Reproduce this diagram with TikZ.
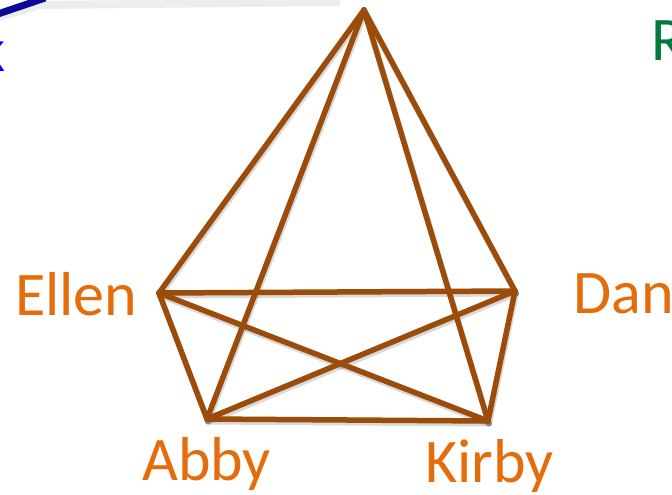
\documentclass[tikz,border=0pt]{standalone}
\usepackage{fontspec}
\setmainfont{Carlito}
\definecolor{edgebrown}{RGB}{156,76,10}
\definecolor{lblorange}{RGB}{228,108,10}
\definecolor{rgreen}{RGB}{0,122,61}
\definecolor{kblue}{RGB}{0,0,240}
\definecolor{barblue}{RGB}{10,10,150}
\tikzset{
  edge/.style={draw=edgebrown, line width=5.5pt, line cap=round, line join=round},
  edgeshadow/.style={draw=black, opacity=0.15, line width=6pt, line cap=round},
  lbl/.style={text=lblorange, font=\fontsize{62}{64}\selectfont, inner sep=0pt, anchor=base west},
}
\begin{document}
\begin{tikzpicture}[x=1pt,y=-1pt]
\useasboundingbox (0,0) rectangle (672,495);
\fill[white] (0,0) rectangle (672,495);
% slide border fragment
\draw[black, opacity=0.07, line width=8pt] (0,17) -- (40,5) -- (340,2);
\draw[barblue, line width=7pt] (-5,15) -- (45,-2);
% clipped text fragments
\node[text=kblue, font=\fontsize{62}{64}\selectfont, inner sep=0pt, anchor=base east] (kfrag) at (6,71) {k};
\node[text=rgreen, font=\fontsize{62}{64}\selectfont, inner sep=0pt, anchor=base west] (rfrag) at (651,60) {R};
% vertices
\coordinate (T) at (364,10);
\coordinate (E) at (159,293);
\coordinate (D) at (515,291);
\coordinate (A) at (207,419);
\coordinate (K) at (488,421);
% shadows
\foreach \a/\b in {T/E,T/A,T/K,T/D,E/D,E/A,E/K,D/A,D/K,A/K}{
  \draw[edgeshadow, transform canvas={shift={(1pt,-2.5pt)}}] (\a) -- (\b);
}
% edges
\draw[edge] (T) -- (E);
\draw[edge] (T) -- (A);
\draw[edge] (T) -- (K);
\draw[edge] (T) -- (D);
\draw[edge] (E) -- (D);
\draw[edge] (E) -- (A);
\draw[edge] (E) -- (K);
\draw[edge] (D) -- (A);
\draw[edge] (D) -- (K);
\draw[edge] (A) -- (K);
% labels
\node[lbl] (ellen) at (15,315) {Ellen};
\node[lbl] (dan) at (573,313) {Dan};
\node[lbl] (abby) at (142,480) {Abby};
\node[lbl] (kirby) at (425,482) {Kirby};
\end{tikzpicture}
\end{document}
